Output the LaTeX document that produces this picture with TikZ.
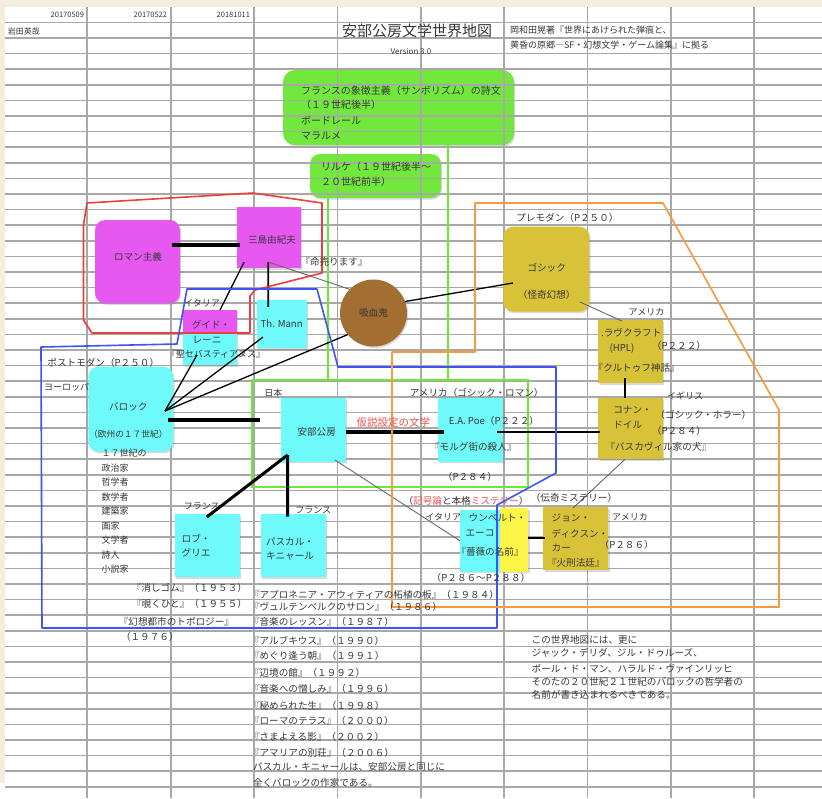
\documentclass[tikz,border=0pt]{standalone}
\usepackage{fontspec}
\setmainfont{Noto Sans CJK JP}
\usetikzlibrary{shadows}
\definecolor{beige}{RGB}{245,238,222}
\definecolor{gridc}{RGB}{168,168,168}
\definecolor{cyanb}{RGB}{110,250,250}
\definecolor{magb}{RGB}{230,88,240}
\definecolor{greenb}{RGB}{114,232,60}
\definecolor{greenl}{RGB}{110,232,50}
\definecolor{oliveb}{RGB}{216,194,56}
\definecolor{yellowb}{RGB}{255,244,72}
\definecolor{brownb}{RGB}{162,110,50}
\definecolor{redl}{RGB}{236,64,60}
\definecolor{bluel}{RGB}{62,84,245}
\definecolor{orangel}{RGB}{250,152,62}
\definecolor{redt}{RGB}{238,80,80}
\definecolor{txt}{RGB}{55,55,55}
\definecolor{graylc}{RGB}{105,105,105}
\begin{document}
\begin{tikzpicture}[x=1pt,y=-1pt,
  every node/.style={inner sep=0pt,outer sep=0pt},
  lbl/.style={text=txt,font=\fontsize{9.6}{11}\selectfont},
  sml/.style={text=txt,font=\fontsize{9}{10}\selectfont},
  tiny/.style={text=txt,font=\fontsize{7.5}{9}\selectfont},
  boxbase/.style={rectangle,draw=none,drop shadow={shadow xshift=1.2pt,shadow yshift=-1.5pt,opacity=0.3}},
  cbox/.style={boxbase,fill=cyanb},
  mbox/.style={boxbase,fill=magb},
  obox/.style={boxbase,fill=oliveb},
  gbox/.style={boxbase,fill=greenb,rounded corners=12pt},
  gridline/.style={draw=gridc,line width=1.7pt},
  heavy/.style={draw=black,line width=4pt},
  heavythree/.style={draw=black,line width=3pt},
  midl/.style={draw=black,line width=1.8pt},
  thinl/.style={draw=black,line width=1.3pt},
  grayline/.style={draw=graylc,line width=0.9pt},
  greenline/.style={draw=greenl,line width=2.5pt},
  poly/.style={line width=1.6pt,line join=round}
]
% background
\fill[white] (0,0) rectangle (822,798);
\path[use as bounding box] (0,0) rectangle (822,798);
\fill[beige] (0,0) rectangle (822,6.8);
\fill[beige] (0,0) rectangle (5,783);

% green boxes (grid shows through them)
\node[gbox,minimum width=231pt,minimum height=75pt] (symb) at (398.5,107.5) {};
\node[gbox,rounded corners=10pt,minimum width=131pt,minimum height=44pt] (rilke) at (375.5,176) {};

% grid
\foreach \k in {1,...,50} \draw[gridline] (5,6.8+15.6*\k) -- (822,6.8+15.6*\k);
\foreach \i in {0,...,8} \draw[gridline] (87.3+83.35*\i,6.8) -- (87.3+83.35*\i,798);

% header
\node[tiny,anchor=east] (d1) at (84,15) {20170509};
\node[tiny,anchor=east] (d2) at (167,15) {20170522};
\node[tiny,anchor=east] (d3) at (250,15) {20181011};
\node[tiny,anchor=west,font=\fontsize{8}{9}\selectfont] (auth) at (8,31) {岩田英哉};
\node[text=txt,font=\fontsize{15}{17}\selectfont] (title) at (417,31) {安部公房文学世界地図};
\node[tiny,font=\fontsize{8}{9}\selectfont] (ver) at (411,51) {Version 3.0};
\node[sml,anchor=west] (src1) at (510,30) {岡和田晃著『世界にあけられた弾痕と、};
\node[sml,anchor=west] (src2) at (510,45) {黄昏の原郷―SF・幻想文学・ゲーム論集』に拠る};

% frame Japan
\node[draw=greenl,line width=2.5pt,minimum width=276pt,minimum height=107pt] (japan) at (390,433.5) {};

% boxes
\node[mbox,rounded corners=10pt,minimum width=85pt,minimum height=83.3pt] (roman) at (137.5,261.7) {};
\node[mbox,minimum width=64.3pt,minimum height=61.6pt] (mishima) at (268.9,237.5) {};
\node[cbox,minimum width=53.4pt,minimum height=55pt] (guido) at (210,337.5) {};
\node[rectangle,fill=magb,minimum width=53.4pt,minimum height=23pt] (guidotop) at (210,321.5) {};
\node[cbox,minimum width=50pt,minimum height=48.3pt] (thmann) at (281.7,324.2) {};
\node[circle,fill=brownb,minimum size=67pt,drop shadow={shadow xshift=1.2pt,shadow yshift=-1.5pt,opacity=0.3}] (vamp) at (373.5,313) {};
\node[obox,rounded corners=10pt,minimum width=86pt,minimum height=85pt] (gothic) at (546.3,269.2) {};
\node[obox,minimum width=64.4pt,minimum height=63.3pt] (lovecraft) at (630.5,351.7) {};
\node[obox,minimum width=64.4pt,minimum height=61pt] (doyle) at (630.5,428.8) {};
\node[obox,minimum width=65pt,minimum height=62.7pt] (carr) at (575.8,538.7) {};
\node[cbox,minimum width=40pt,minimum height=61.7pt] (ecoc) at (480,540.8) {};
\node[boxbase,fill=yellowb,minimum width=28.3pt,minimum height=63.4pt] (ecoy) at (514.2,540) {};
\node[cbox,minimum width=65pt,minimum height=63.4pt] (poe) at (470.8,430) {};
\node[cbox,minimum width=65.3pt,minimum height=63.4pt] (abe) at (313.3,430) {};
\node[cbox,rounded corners=10pt,minimum width=85pt,minimum height=85pt] (baroque) at (130.8,409.2) {};
\node[cbox,minimum width=65pt,minimum height=63.3pt] (robbe) at (207.5,545.7) {};
\node[cbox,minimum width=65pt,minimum height=63pt] (pascal) at (293.2,545.8) {};

% connectors
\draw[greenline] ([xshift=-47.5pt]rilke.south) -- ([xshift=-62pt]japan.north);
\draw[greenline] ([xshift=49.5pt]symb.south) -- ([xshift=58pt]japan.north);
\draw[heavy] ([xshift=-8.3pt,yshift=16.7pt]roman.east) -- ([xshift=3.3pt,yshift=-7.5pt]mishima.west);
\draw[midl] ([xshift=-0.6pt,yshift=6.3pt]mishima.south) -- ([xshift=-13.4pt,yshift=-6.7pt]thmann.north);
\draw[thinl] ([xshift=-24.9pt,yshift=6pt]mishima.south) -- ([xshift=10pt]guido.north);
\draw[grayline] ([xshift=-0.6pt,yshift=6.3pt]mishima.south) -- (vamp.135);
\draw[thinl] (vamp.20) -- ([xshift=9.7pt,yshift=-13.8pt]gothic.west);
\draw[thinl] (vamp.220) -- ([xshift=-8.3pt,yshift=-1.8pt]baroque.east);
\draw[thinl] ([xshift=6.3pt,yshift=11.3pt]thmann.south west) -- ([xshift=-8.3pt,yshift=-1.8pt]baroque.east);
\draw[thinl] ([xshift=-13pt,yshift=10pt]guido.south) -- ([xshift=-8.3pt,yshift=-1.8pt]baroque.east);
\draw[heavy] ([xshift=-5.3pt,yshift=-10.8pt]baroque.east) -- ([xshift=-20.7pt,yshift=10pt]abe.west);
\draw[heavy] ([yshift=-1.7pt]abe.east) -- ([xshift=5.7pt,yshift=-1.7pt]poe.west);
\draw[heavythree] ([xshift=7pt,yshift=6.7pt]abe.south west) -- ([xshift=-0.8pt,yshift=-3pt]robbe.north);
\draw[heavythree] ([xshift=7pt,yshift=6.7pt]abe.south west) -- ([xshift=-5.5pt,yshift=-2.4pt]pascal.north);
\draw[grayline] ([xshift=-11pt,yshift=1.7pt]abe.south east) -- (ecoc.west);
\draw[midl] ([xshift=-6.3pt,yshift=-1.7pt]poe.east) -- ([xshift=1.7pt,yshift=-2.9pt]doyle.west);
\draw[grayline] ([xshift=-9.3pt,yshift=9.7pt]gothic.south east) -- ([xshift=-8.5pt,yshift=-1pt]lovecraft.north);
\draw[midl] ([xshift=-5.5pt,yshift=5.3pt]lovecraft.south) -- ([xshift=-5.5pt]doyle.north);
\draw[grayline] ([xshift=-5.5pt]doyle.south) -- ([xshift=-2.8pt,yshift=-0.7pt]carr.north);
\draw[thinl] ([yshift=2pt]ecoy.east) -- ([xshift=1.7pt,yshift=0.7pt]carr.west);

% region outlines
\draw[poly,draw=redl] (87,203) -- (253,193) -- (322,203) -- (322,273) -- (255,290) -- (250,296) -- (250,333) -- (92,333) -- (83.5,320) -- (83.5,225) -- cycle;
\draw[poly,draw=bluel] (41,347) -- (177,344) -- (187,289) -- (317,289) -- (338,367) -- (556,367) -- (556,473) -- (497,505) -- (497,628) -- (42,628) -- cycle;
\draw[poly,draw=orangel] (475,352) -- (475,203) -- (663,203) -- (779,410) -- (779,607) -- (392,607) -- (392,352) -- cycle;

% texts in top boxes
\node[lbl,anchor=west,font=\fontsize{10}{11}\selectfont] (sy1) at (301,90.5) {フランスの象徴主義（サンボリズム）の詩文};
\node[lbl,anchor=west,font=\fontsize{10}{11}\selectfont] (sy2) at (301,105) {（１９世紀後半）};
\node[lbl,anchor=west,font=\fontsize{10}{11}\selectfont] (sy3) at (301,120.5) {ボードレール};
\node[lbl,anchor=west,font=\fontsize{10}{11}\selectfont] (sy4) at (301,135.5) {マラルメ};
\node[lbl,anchor=west,font=\fontsize{10}{11}\selectfont] (ri1) at (321,167) {リルケ（１９世紀後半〜};
\node[lbl,anchor=west,font=\fontsize{10}{11}\selectfont] (ri2) at (321,182) {２０世紀前半）};

% romanticism group
\node[lbl] (romant) at (138,257) {ロマン主義};
\node[lbl] (misht) at (272,240) {三島由紀夫};
\node[sml] (itl1) at (202,303.3) {イタリア};
\node[lbl] (gui1) at (211,324.3) {グイド・};
\node[lbl] (gui2) at (207,340) {レーニ};
\node[sml] (gui3) at (216,354.3) {『聖セバスティアヌス』};
\node[lbl] (thmt) at (281.7,323.3) {Th. Mann};
\node[lbl] (inoch) at (334,262) {『命売ります』};
\node[lbl] (vampt) at (373.5,313) {吸血鬼};

% gothic group
\node[lbl] (prem) at (567.5,217.7) {プレモダン（P２５０）};
\node[lbl] (goth1) at (546.7,267.7) {ゴシック};
\node[lbl] (goth2) at (546.7,295) {（怪奇幻想）};
\node[sml] (am1) at (646.5,312.3) {アメリカ};
\node[lbl] (lc1) at (631.3,332.7) {.ラヴクラフト};
\node[lbl] (lc2) at (622,348.3) {(HPL)};
\node[lbl] (lc3) at (679,346) {（P２２２）};
\node[lbl] (lc4) at (636.7,368.3) {『クルトゥフ神話』};
\node[sml] (uk1) at (685,396) {イギリス};
\node[lbl,anchor=west] (dy1) at (613.3,410) {コナン・};
\node[lbl,anchor=west] (dy2) at (613.3,425) {ドイル};
\node[lbl] (dy3) at (703.3,415) {（ゴシック・ホラー）};
\node[lbl] (dy4) at (679,430.7) {（P２８４）};
\node[lbl] (dy5) at (658.3,446.7) {『バスカヴィル家の犬』};
\node[lbl] (cr0) at (574,498.3) {（伝奇ミステリー）};
\node[lbl,anchor=west] (cr1) at (551.7,518.3) {ジョン・};
\node[lbl,anchor=west] (cr2) at (551.7,533.3) {ディクスン・};
\node[lbl,anchor=west] (cr3) at (551.7,548.3) {カー};
\node[lbl,anchor=west] (cr4) at (547,563.3) {『火刑法廷』};
\node[sml] (am2) at (630,516.7) {アメリカ};
\node[lbl] (cr5) at (626.7,545) {（P２８６）};

% eco
\node[lbl] (ec0) at (466,501) {（\textcolor{redt}{記号論}と本格\textcolor{redt}{ミステリー}）};
\node[sml] (itl2) at (443.3,516.7) {イタリア};
\node[lbl] (ec1) at (497.5,518.3) {ウンベルト・};
\node[lbl] (ec2) at (480,533.3) {エーコ};
\node[lbl] (ec3) at (490,551.7) {『薔薇の名前』};
\node[lbl] (ec4) at (481,578.3) {（P２８６〜P２８８）};

% poe / abe
\node[lbl] (po0) at (476.7,393.3) {アメリカ（ゴシック・ロマン）};
\node[lbl] (po1) at (494,420.7) {E.A. Poe（P２２２）};
\node[lbl] (po2) at (473.3,446.7) {『モルグ街の殺人』};
\node[lbl] (po3) at (470,476.7) {（P２８４）};
\node[sml] (jp) at (273.3,393.3) {日本};
\node[lbl] (abet) at (316.7,431.7) {安部公房};
\node[text=redt,font=\fontsize{10.5}{12}\selectfont] (kasetsu) at (393.3,422.7) {仮説設定の文学};

% baroque
\node[lbl] (pom) at (103.3,362.7) {ポストモダン（P２５０）};
\node[sml] (eu) at (66.7,386.7) {ヨーロッパ};
\node[lbl] (bar1) at (128.3,406.7) {バロック};
\node[text=txt,font=\fontsize{8.7}{10}\selectfont] (bar2) at (128.3,434) {（欧州の１７世紀）};
\foreach \w [count=\i from 0] in {１７世紀の,政治家,哲学者,数学者,建築家,画家,文学者,詩人,小説家}
  \node[sml,anchor=west] (li\i) at (101.7,453.5+14.5*\i) {\w};

% robbe-grillet / quignard
\node[sml] (fr1) at (201.7,506.7) {フランス};
\node[lbl,anchor=west] (rb1) at (181.7,538.3) {ロブ・};
\node[lbl,anchor=west] (rb2) at (181.7,552.7) {グリエ};
\node[sml] (fr2) at (313.3,510) {フランス};
\node[lbl,anchor=west] (pq1) at (266,541.7) {パスカル・};
\node[lbl,anchor=west] (pq2) at (266,556) {キニャール};

\node[lbl,anchor=east] (rw1) at (247,588.3) {『消しゴム』（１９５３）};
\node[lbl,anchor=east] (rw2) at (247,604.3) {『覗くひと』（１９５５）};
\node[lbl,anchor=east] (rw3) at (234,621.7) {『幻想都市のトポロジー』};
\node[lbl,anchor=west] (rw4) at (121,636.7) {（１９７６）};

\node[lbl,anchor=west] (kg1) at (250,595) {『アプロネニア・アウィティアの柘植の板』（１９８４）};
\node[lbl,anchor=west] (kg2) at (250,607) {『ヴュルテンベルクのサロン』（１９８６）};
\node[lbl,anchor=west] (kg3) at (250,621.7) {『音楽のレッスン』（１９８７）};
\node[lbl,anchor=west] (kg4) at (250,641) {『アルブキウス』（１９９０）};
\node[lbl,anchor=west] (kg5) at (250,656) {『めぐり逢う朝』（１９９１）};
\node[lbl,anchor=west] (kg6) at (250,673.3) {『辺境の館』（１９９２）};
\node[lbl,anchor=west] (kg7) at (250,689.3) {『音楽への憎しみ』（１９９６）};
\node[lbl,anchor=west] (kg8) at (250,706) {『秘められた生』（１９９８）};
\node[lbl,anchor=west] (kg9) at (250,720.5) {『ローマのテラス』（２０００）};
\node[lbl,anchor=west] (kg10) at (250,736.7) {『さまよえる影』（２００２）};
\node[lbl,anchor=west] (kg11) at (250,752.7) {『アマリアの別荘』（２００６）};
\node[lbl,anchor=west] (kg12) at (253,767.3) {パスカル・キニャールは、安部公房と同じに};
\node[lbl,anchor=west] (kg13) at (253,782.7) {全くバロックの作家である。};

% note
\node[lbl,anchor=west] (nt1) at (531.7,640) {この世界地図には、更に};
\node[lbl,anchor=west] (nt2) at (531.7,653.3) {ジャック・デリダ、ジル・ドゥルーズ、};
\node[lbl,anchor=west] (nt3) at (531.7,668.3) {ポール・ド・マン、ハラルド・ヴァインリッヒ};
\node[lbl,anchor=west] (nt4) at (531.7,681.7) {そのたの２０世紀２１世紀のバロックの哲学者の};
\node[lbl,anchor=west] (nt5) at (531.7,695) {名前が書き込まれるべきである。};
\end{tikzpicture}
\end{document}
